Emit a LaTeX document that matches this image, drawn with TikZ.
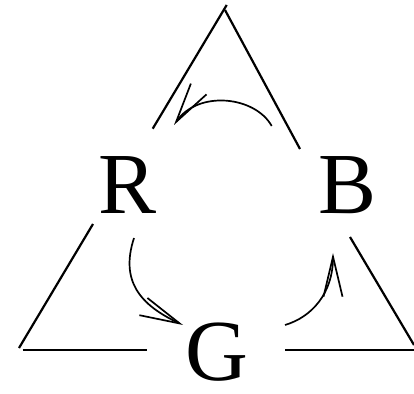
\documentclass[tikz,border=0pt]{standalone}
\usepackage{fontspec}
\setmainfont{Liberation Serif}
\usetikzlibrary{arrows.meta, calc}

\begin{document}
\begin{tikzpicture}[x=1pt, y=1pt,
    side/.style={line width=2.2pt},
    flow/.style={line width=1.7pt, -{Straight Barb[length=40pt, width=19pt]}},
    colour/.style={inner sep=0pt, anchor=base, font=\fontsize{87}{87}\selectfont}]
  \useasboundingbox (0,0) rectangle (414,393);

  % colour labels
  \node[colour] (R) at (127.7,179.7) {R};
  \node[colour] (B) at (348,179.7) {B};
  \node[colour] (G) at (216.7,13) {G};

  % broken triangle
  \draw[side] (152.7,264.3) -- (226.7,388);
  \draw[side] (225,383) -- (300,244);
  \draw[side] (93,169) -- (19,45);
  \draw[side] (22.7,43) -- (146.7,43);
  \draw[side] (285,43) -- (414,43);
  \draw[side] (350,156) -- (414,48);

  % cycle R -> G -> B -> R
  \draw[flow] ($(R.base)+(6.3,-24.7)$) .. controls +(-14,-43) and +(-43,20) .. ($(G.base)+(-33.7,55)$);
  \draw[flow] ($(G.base)+(68.3,55)$) .. controls +(27,8) and +(0,-40) .. ($(B.base)+(-15,-39.7)$);
  \draw[flow] ($(B.base)+(-76.3,87.3)$) .. controls +(-16.7,30) and +(24,35) .. ($(R.base)+(46.3,88.3)$);
\end{tikzpicture}
\end{document}
